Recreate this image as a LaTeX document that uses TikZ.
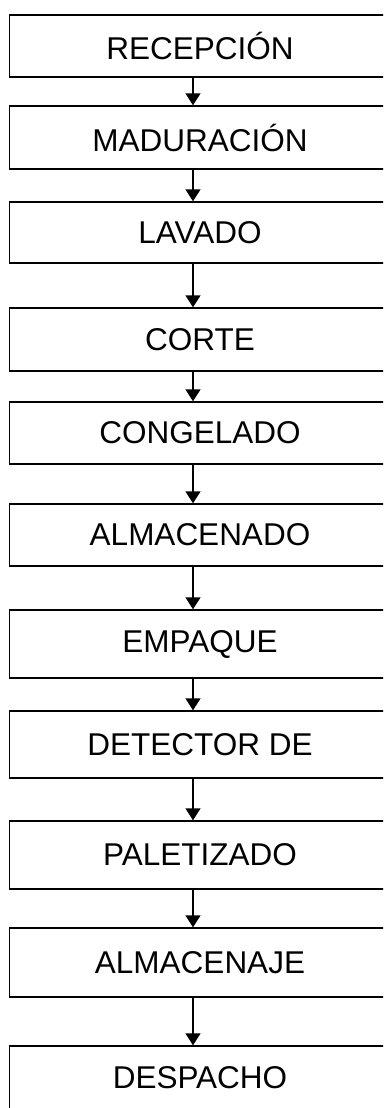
\documentclass[tikz,border=0pt]{standalone}
\usepackage{fontspec}
\setmainfont{Liberation Sans}
\usetikzlibrary{arrows.meta}

\begin{document}
\begin{tikzpicture}[x=1pt,y=-1pt,
    paso/.style={draw,line width=1.4pt,minimum width=381pt,inner sep=0pt,
      font=\fontsize{31.5}{35}\selectfont},
    flecha/.style={line width=1.4pt,-{Triangle[width=15pt,length=12pt]}}]
    \clip (0,0) rectangle (383,1108);
    % pasos del proceso, x=200 es el centro del texto
    \node[paso,minimum height=62pt] (recepcion) at (200,46) {RECEPCIÓN};
    \node[paso,minimum height=63pt] (maduracion) at (200,137.5) {MADURACIÓN};
    \node[paso,minimum height=61pt] (lavado) at (200,232.5) {LAVADO};
    \node[paso,minimum height=63pt] (corte) at (200,339.5) {CORTE};
    \node[paso,minimum height=62pt] (congelado) at (200,433) {CONGELADO};
    \node[paso,minimum height=62pt] (almacenado) at (200,535) {ALMACENADO};
    \node[paso,minimum height=68pt] (empaque) at (200,644) {EMPAQUE};
    \node[paso,minimum height=67pt] (detector) at (200,744.5) {DETECTOR DE};
    \node[paso,minimum height=68pt] (paletizado) at (200,855) {PALETIZADO};
    \node[paso,minimum height=69pt] (almacenaje) at (200,962.5) {ALMACENAJE};
    \node[paso,minimum height=64pt] (despacho) at (200,1078) {DESPACHO};
    % las flechas van un poco a la izquierda del centro
    \foreach \a/\b in {recepcion/maduracion,maduracion/lavado,lavado/corte,
      corte/congelado,congelado/almacenado,almacenado/empaque,empaque/detector,
      detector/paletizado,paletizado/almacenaje,almacenaje/despacho}
      \draw[flecha] ([xshift=-7pt]\a.south) -- ([xshift=-7pt]\b.north);
\end{tikzpicture}
\end{document}
